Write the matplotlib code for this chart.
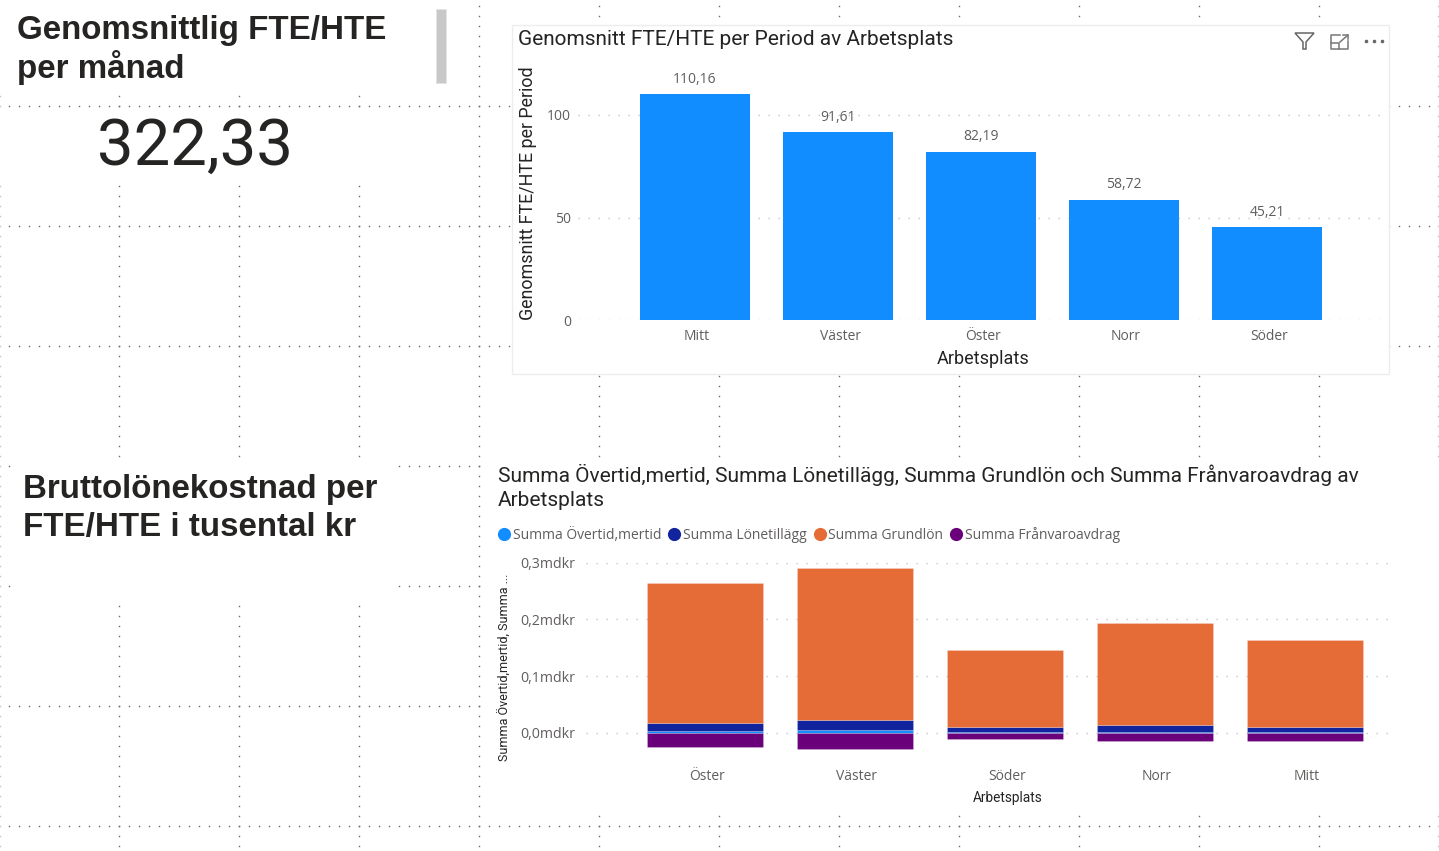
#!/usr/bin/env python

import matplotlib
matplotlib.use('Agg')
import numpy as np
import matplotlib.pyplot as plt
from matplotlib.lines import Line2D
from matplotlib.patches import Polygon, Rectangle

W, H = 1439, 851

# top chart
sites_top = ['Mitt', 'Väster', 'Öster', 'Norr', 'Söder']
fte_top = [110.16, 91.61, 82.19, 58.72, 45.21]
yticks_top = [0, 50, 100]

# bottom chart, mdkr
sites_bot = ['Öster', 'Väster', 'Söder', 'Norr', 'Mitt']
overtid = [0.003, 0.0047, 0.0015, 0.0018, 0.0016]
tillagg = [0.0135, 0.017, 0.0091, 0.0111, 0.009]
grundlon = [0.2475, 0.2689, 0.1359, 0.1811, 0.1534]
franvaro = [-0.026, -0.028, -0.0106, -0.0154, -0.0141]
yticks_bot = [0.0, 0.1, 0.2, 0.3]
series_names = ['Summa Övertid,mertid', 'Summa Lönetillägg', 'Summa Grundlön', 'Summa Frånvaroavdrag']

BLUE = '#118DFF'
NAVY = '#12239E'
ORANGE = '#E66C37'
PURPLE = '#6B007B'
DARK = '#252423'
GREY = '#605E5C'
GRID = '#C8C6C4'
TICK_FONT = 'Open Sans'
HEAD_FONT = 'Liberation Sans'
TITLE_FONT = 'Roboto'


def comma(val, fmt):
    return format(val, fmt).replace('.', ',')


def axes_at(left, top, right, bottom):
    return fig.add_axes([left/W, 1 - bottom/H, (right-left)/W, (bottom-top)/H], facecolor='none')


def style_axes(ax):
    for spine in ax.spines.values():
        spine.set_visible(False)
    ax.tick_params(length=0, colors=GREY, labelsize=10)
    ax.grid(True, axis='y', color=GRID, linewidth=1, linestyle=(0, (1, 6.2)))
    ax.set_axisbelow(True)
    for lab in ax.get_xticklabels() + ax.get_yticklabels():
        lab.set_family(TICK_FONT)


fig = plt.figure(figsize=(W/100, H/100), dpi=100, facecolor='white')

# page background in pixel coordinates: snap grid and the white boxes of the visuals
bg = fig.add_axes([0, 0, 1, 1])
bg.set_xlim(0, W)
bg.set_ylim(H, 0)
bg.axis('off')

dots_x = np.arange(9, W, 10)
dots_y = np.arange(6, H, 10)
for row in [106, 226, 346, 466, 586, 706, 826]:
    bg.plot(dots_x, [row]*len(dots_x), ls=' ', marker='s', ms=1.0, color='#666666', mew=0, zorder=1)
for col in [119, 239, 359, 479, 599, 719, 839, 959, 1079, 1199, 1319]:
    bg.plot([col]*len(dots_y), dots_y, ls=' ', marker='s', ms=1.0, color='#666666', mew=0, zorder=1)
for col in [0, 1438]:
    bg.plot([col]*len(dots_y), dots_y, ls=' ', marker='s', ms=1.0, color='#C4C4C4', mew=0, zorder=1)

for x0, y0, x1, y1 in [(0, 0, 470, 91), (0, 108, 470, 183), (15, 458, 396, 600),
                       (488, 458, W, 811)]:
    bg.add_patch(Rectangle((x0, y0), x1-x0, y1-y0, fc='white', ec='none', zorder=2))
bg.add_patch(Rectangle((512, 25), 877, 349, fc='white', ec='#EDEDED', lw=1, zorder=2))
bg.add_patch(Rectangle((436, 9), 10, 74, fc='#C8C8C8', ec='#E4E4E4', lw=0.7, zorder=3))

# left side texts
bg.text(17, 50, 'Genomsnittlig FTE/HTE\nper månad', family=HEAD_FONT, weight='bold', fontsize=23.9,
        color=DARK, va='center', ha='left', linespacing=1.14, zorder=4)
bg.text(195, 147, '322,33', family=TITLE_FONT, fontsize=47, color=DARK, ha='center', va='center', zorder=4)
bg.text(23, 508.5, 'Bruttolönekostnad per\nFTE/HTE i tusental kr', family=HEAD_FONT, weight='bold', fontsize=23.9,
        color=DARK, va='center', ha='left', linespacing=1.31, zorder=4)

# visual header icons
bg.add_patch(Polygon([(1295, 33), (1314, 33), (1306, 42), (1306, 49), (1303, 49), (1303, 42)],
                     fc='none', ec='#666666', lw=1.1, zorder=4))
bg.plot([1340, 1331, 1331, 1348, 1348], [35, 35, 49, 49, 41], color='#777777', lw=1.1, zorder=4)
bg.plot([1331, 1339, 1339], [43, 43, 49], color='#777777', lw=1.1, zorder=4)
bg.plot([1340, 1348], [42, 35], color='#777777', lw=1.1, zorder=4)
bg.plot([1343, 1348, 1348], [35, 35, 39], color='#777777', lw=1.1, zorder=4)
bg.plot([1366, 1374, 1382], [41, 41, 41], ls=' ', marker='o', ms=2.6, color='#666666', mew=0, zorder=4)

# top chart
ax1 = axes_at(578, 90, 1380, 320)
pos1 = np.arange(len(sites_top))
bars1 = ax1.bar(pos1, fte_top, width=110/143, color=BLUE, zorder=3)
ax1.set_xlim((578-695)/143, (1380-695)/143)
ax1.set_ylim(0, 230/2.05)
ax1.set_xticks(pos1 + 2/143, sites_top)
ax1.set_yticks(yticks_top, [str(v) for v in yticks_top])
style_axes(ax1)
ax1.tick_params(axis='x', pad=6.5)
ax1.tick_params(axis='y', pad=5)
ax1.bar_label(bars1, labels=[comma(v, '.2f') for v in fte_top], padding=5.5, fontsize=10,
              color=GREY, family=TICK_FONT)
bg.text(518, 39.6, 'Genomsnitt FTE/HTE per Period av Arbetsplats', family=TITLE_FONT, fontsize=15,
        color=DARK, va='center', zorder=4)
bg.text(983, 359, 'Arbetsplats', family=TITLE_FONT, fontsize=13, color=DARK, ha='center', va='center', zorder=4)
bg.text(528, 193, 'Genomsnitt FTE/HTE per Period', family=TITLE_FONT, fontsize=12.9, color=DARK,
        rotation=90, ha='center', va='center', zorder=4)

# bottom chart
ax2 = axes_at(586, 562.7, 1392, 749.7)
pos2 = np.arange(len(sites_bot))
bar_kw = dict(width=116/150, zorder=3, edgecolor=(1, 1, 1, 0.2), linewidth=0.7)
ax2.bar(pos2, overtid, color=BLUE, **bar_kw)
ax2.bar(pos2, tillagg, bottom=overtid, color=NAVY, **bar_kw)
ax2.bar(pos2, grundlon, bottom=np.add(overtid, tillagg), color=ORANGE, **bar_kw)
ax2.bar(pos2, franvaro, color=PURPLE, **bar_kw)
ax2.set_xlim((586-705)/150, (1392-705)/150)
ax2.set_ylim(-17/566.67, 0.3)
ax2.set_xticks(pos2 + 2/150, sites_bot)
ax2.set_yticks(yticks_bot, [comma(v, '.1f') + 'mdkr' for v in yticks_bot])
style_axes(ax2)
ax2.tick_params(axis='x', pad=14)
ax2.tick_params(axis='y', pad=7.5, labelsize=10.2)
bg.text(498, 487, 'Summa Övertid,mertid, Summa Lönetillägg, Summa Grundlön och Summa Frånvaroavdrag av\nArbetsplats',
        family=TITLE_FONT, fontsize=15, color=DARK, va='center', linespacing=1.3, zorder=4)
bg.text(1008, 798, 'Arbetsplats', family=TITLE_FONT, fontsize=9.8, color=DARK, ha='center', va='center', zorder=4)
bg.text(505, 667, 'Summa Övertid,mertid, Summa ...', family=TITLE_FONT, fontsize=9, color=DARK,
        rotation=90, ha='center', va='center', zorder=4)

handles = [Line2D([], [], ls=' ', marker='o', ms=9.5, mew=0, color=c) for c in [BLUE, NAVY, ORANGE, PURPLE]]
leg = fig.legend(handles, series_names, loc='center left', bbox_to_anchor=(497.5/W, 1 - 535/H), ncol=4, frameon=False,
                 handlelength=1.0, handletextpad=0.1, columnspacing=0.45, borderpad=0, borderaxespad=0,
                 prop={'family': TICK_FONT, 'size': 10}, labelcolor=GREY)

plt.savefig('out.png', dpi=100)
